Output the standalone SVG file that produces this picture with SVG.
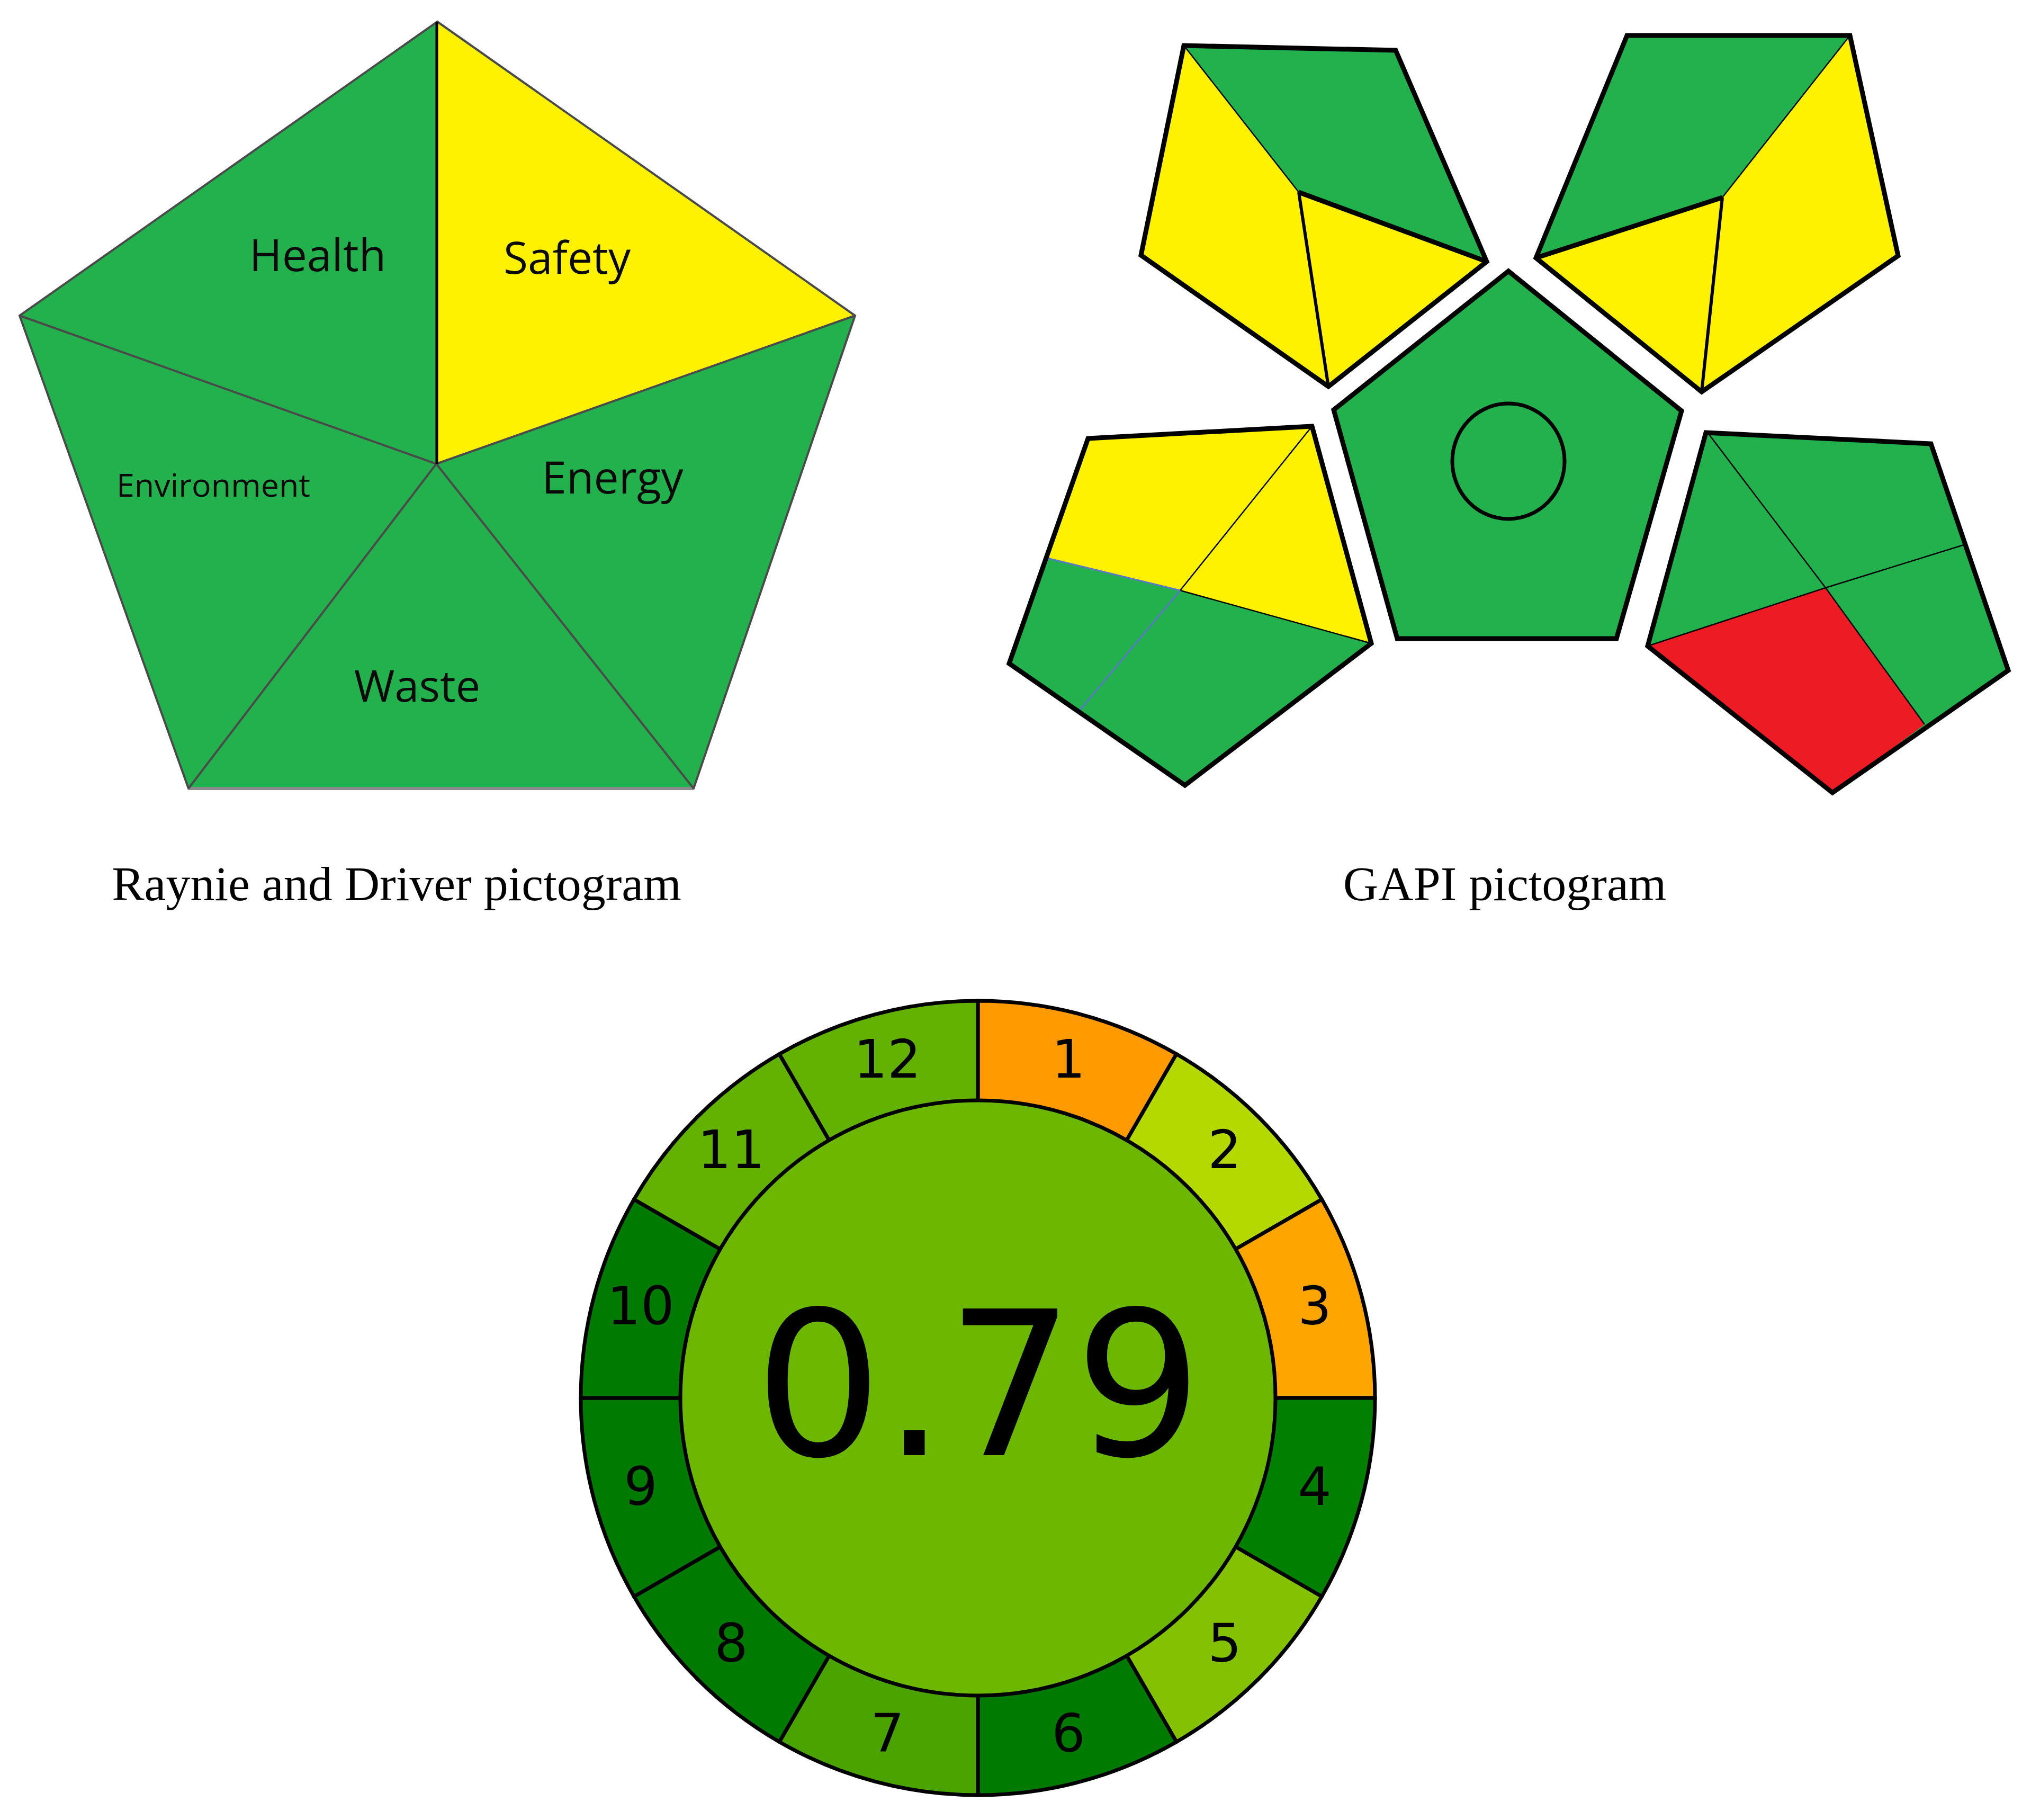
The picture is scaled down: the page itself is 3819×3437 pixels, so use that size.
<svg xmlns="http://www.w3.org/2000/svg" width="3819" height="3437" viewBox="0 0 3819 3437">
<style>
.rd-g{fill:#22B14C}
.rd-y{fill:#FFF200}
.rd-edge{fill:none;stroke:#4a4a4a;stroke-width:4}
.rd-lbl{font-family:"Open Sans","Liberation Sans",sans-serif;fill:#0a0a0a;text-anchor:middle}
.cap{font-family:"Liberation Serif","DejaVu Serif",serif;font-size:92px;fill:#000;text-anchor:middle}
.gp{stroke:#000;stroke-width:9;stroke-linejoin:miter}
.g{fill:#22B14C}
.y{fill:#FFF200}
.r{fill:#ED1C24}
.thin{fill:none;stroke:#000;stroke-width:2.5}
.mid{fill:none;stroke:#000;stroke-width:6}
.seg{stroke:#000;stroke-width:7;stroke-linejoin:miter}
.num{font-family:"DejaVu Sans",sans-serif;font-size:100px;fill:#000;text-anchor:middle}
</style>

<!-- Raynie and Driver pictogram -->
<g id="raynie">
  <g id="rd-health"><polygon class="rd-g" points="826,41 37,596 824,876"/></g>
  <g id="rd-safety"><polygon class="rd-y" points="826,41 1615,596 824,876"/></g>
  <g id="rd-energy"><polygon class="rd-g" points="1615,596 1310,1489 824,876"/></g>
  <g id="rd-waste"><polygon class="rd-g" points="1310,1489 356,1489 824,876"/></g>
  <g id="rd-environment"><polygon class="rd-g" points="356,1489 37,596 824,876"/></g>
  <polygon class="rd-edge" points="826,41 1615,596 1310,1489 356,1489 37,596"/>
  <line x1="356" y1="1489" x2="1310" y2="1489" stroke="#8a8a8a" stroke-width="6"/>
  <line class="rd-edge" x1="37" y1="596" x2="824" y2="876"/>
  <line class="rd-edge" x1="1615" y1="596" x2="824" y2="876"/>
  <line class="rd-edge" x1="356" y1="1489" x2="824" y2="876"/>
  <line class="rd-edge" x1="1310" y1="1489" x2="824" y2="876" stroke-width="6"/>
  <line x1="825" y1="41" x2="825" y2="876" stroke="#000" stroke-width="5"/>
  <text class="rd-lbl" x="600" y="512" font-size="84">Health</text>
  <text class="rd-lbl" x="1071" y="517" font-size="84">Safety</text>
  <text class="rd-lbl" x="1157" y="932" font-size="84">Energy</text>
  <text class="rd-lbl" x="403" y="938" font-size="61">Environment</text>
  <text class="rd-lbl" x="788" y="1325" font-size="83">Waste</text>
</g>
<text class="cap" x="749" y="1700">Raynie and Driver pictogram</text>

<!-- GAPI pictogram -->
<g id="gapi">
  <g id="gapi-top-left">
    <polygon class="g" points="2236,86 2636,95 2808,494 2453,363"/>
    <polygon class="y" points="2236,86 2453,363 2509,730 2155,482"/>
    <polygon class="y" points="2453,363 2808,494 2509,730"/>
    <line class="thin" x1="2236" y1="86" x2="2453" y2="363"/>
    <line x1="2453" y1="363" x2="2808" y2="494" stroke="#000" stroke-width="9"/>
    <line class="mid" x1="2453" y1="363" x2="2509" y2="730"/>
    <polygon class="gp" fill="none" points="2236,86 2636,95 2808,494 2509,730 2155,482"/>
  </g>
  <g id="gapi-top-right">
    <polygon class="g" points="3073,67 3494,67 3253,373 2901,487"/>
    <polygon class="y" points="3494,67 3585,483 3214,740 3253,373"/>
    <polygon class="y" points="3253,373 3214,740 2901,487"/>
    <line class="thin" x1="3494" y1="67" x2="3253" y2="373"/>
    <line x1="3253" y1="373" x2="2901" y2="487" stroke="#000" stroke-width="9"/>
    <line class="mid" x1="3253" y1="373" x2="3214" y2="740"/>
    <polygon class="gp" fill="none" points="3073,67 3494,67 3585,483 3214,740 2901,487"/>
  </g>
  <g id="gapi-center">
    <polygon class="gp g" stroke-width="9" points="2849,512 3176,776 3053,1206 2639,1206 2519,774"/>
    <ellipse cx="2849" cy="871" rx="106" ry="109" fill="none" stroke="#000" stroke-width="7"/>
  </g>
  <g id="gapi-bottom-left">
    <polygon class="y" points="2055,828 2478,805 2590,1215 2229,1115 1974,1053"/>
    <polygon class="g" points="1974,1053 2229,1115 2037,1344 1906,1253"/>
    <polygon class="g" points="2229,1115 2590,1215 2238,1483 2037,1344"/>
    <line class="thin" x1="2478" y1="805" x2="2229" y2="1115"/>
    <line class="thin" x1="2229" y1="1115" x2="2590" y2="1215"/>
    <line x1="1974" y1="1053" x2="2229" y2="1115" stroke="#5a78c8" stroke-width="3"/>
    <line x1="2229" y1="1115" x2="2037" y2="1344" stroke="#5a78c8" stroke-width="3"/>
    <polygon class="gp" fill="none" points="2055,828 2478,805 2590,1215 2238,1483 1906,1253"/>
  </g>
  <g id="gapi-bottom-right">
    <polygon class="g" points="3222,817 3647,838 3793,1266 3461,1497 3112,1220"/>
    <polygon class="r" points="3112,1220 3448,1110 3635,1368 3461,1497"/>
    <line class="thin" x1="3226" y1="818" x2="3448" y2="1110"/>
    <line class="thin" x1="3448" y1="1110" x2="3709" y2="1029"/>
    <line class="thin" x1="3448" y1="1110" x2="3112" y2="1220"/>
    <line class="thin" x1="3448" y1="1110" x2="3635" y2="1368"/>
    <polygon class="gp" fill="none" points="3222,817 3647,838 3793,1266 3461,1497 3112,1220"/>
  </g>
</g>
<text class="cap" x="2842" y="1700">GAPI pictogram</text>

<!-- AGREE pictogram -->
<g id="agree">
  <g id="seg1"><path class="seg" fill="#FF9A00" d="M1847,2640 L1847,1890 A750,750 0 0 1 2222,1990.5 Z"/></g>
  <g id="seg2"><path class="seg" fill="#B3D900" d="M1847,2640 L2222,1990.5 A750,750 0 0 1 2496.5,2265 Z"/></g>
  <g id="seg3"><path class="seg" fill="#FFA500" d="M1847,2640 L2496.5,2265 A750,750 0 0 1 2597,2640 Z"/></g>
  <g id="seg4"><path class="seg" fill="#007F00" d="M1847,2640 L2597,2640 A750,750 0 0 1 2496.5,3015 Z"/></g>
  <g id="seg5"><path class="seg" fill="#84C100" d="M1847,2640 L2496.5,3015 A750,750 0 0 1 2222,3289.5 Z"/></g>
  <g id="seg6"><path class="seg" fill="#007A00" d="M1847,2640 L2222,3289.5 A750,750 0 0 1 1847,3390 Z"/></g>
  <g id="seg7"><path class="seg" fill="#4BA300" d="M1847,2640 L1847,3390 A750,750 0 0 1 1472,3289.5 Z"/></g>
  <g id="seg8"><path class="seg" fill="#007A00" d="M1847,2640 L1472,3289.5 A750,750 0 0 1 1197.5,3015 Z"/></g>
  <g id="seg9"><path class="seg" fill="#007A00" d="M1847,2640 L1197.5,3015 A750,750 0 0 1 1097,2640 Z"/></g>
  <g id="seg10"><path class="seg" fill="#007A00" d="M1847,2640 L1097,2640 A750,750 0 0 1 1197.5,2265 Z"/></g>
  <g id="seg11"><path class="seg" fill="#63B100" d="M1847,2640 L1197.5,2265 A750,750 0 0 1 1472,1990.5 Z"/></g>
  <g id="seg12"><path class="seg" fill="#63B100" d="M1847,2640 L1472,1990.5 A750,750 0 0 1 1847,1890 Z"/></g>
  <g id="center"><circle cx="1847" cy="2640" r="562" fill="#6CB700" stroke="#000" stroke-width="7"/></g>
  <text class="num" x="2018" y="2035">1</text>
  <text class="num" x="2313" y="2206">2</text>
  <text class="num" x="2483" y="2501">3</text>
  <text class="num" x="2483" y="2842">4</text>
  <text class="num" x="2313" y="3138">5</text>
  <text class="num" x="2018" y="3308">6</text>
  <text class="num" x="1676" y="3308">7</text>
  <text class="num" x="1381" y="3138">8</text>
  <text class="num" x="1210" y="2842">9</text>
  <text class="num" x="1210" y="2501">10</text>
  <text class="num" x="1381" y="2206">11</text>
  <text class="num" x="1676" y="2035">12</text>
  <text x="1848" y="2748" font-family="DejaVu Sans, sans-serif" font-size="380" text-anchor="middle" fill="#000">0.79</text>
</g>
</svg>
